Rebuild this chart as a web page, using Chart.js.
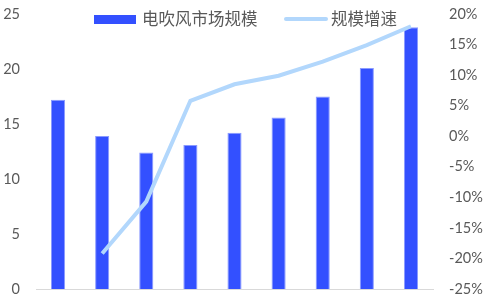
<!DOCTYPE html>
<html>
<head>
<meta charset="utf-8">
<script src="https://cdn.jsdelivr.net/npm/chart.js@4"></script>
<style>
  html, body { margin: 0; padding: 0; background: #fff; }
  #wrap { width: 496px; height: 303px; }
</style>
</head>
<body>
<div id="wrap"><canvas id="myChart"></canvas></div>
<script>
var labels = ["2012", "2013", "2014", "2015", "2016", "2017", "2018", "2019", "2020"];
var marketSize = [17.2, 13.9, 12.4, 13.1, 14.2, 15.6, 17.5, 20.1, 23.8];
var growthRate = [null, -19.2, -10.7, 5.8, 8.5, 9.9, 12.2, 14.9, 18.0];
var leftTicks = [0, 5, 10, 15, 20, 25];
var rightTicks = [-25, -20, -15, -10, -5, 0, 5, 10, 15, 20];

var barColor = "#3350ff";
var lineColor = "#b2d7fc";
var textColor = "#595959";
var tickFont = { family: "Lato, 'Noto Sans', sans-serif", size: 14.5 };

// legend sits inside the plot area, so it is drawn by hand
var legendPlugin = {
  id: "insideLegend",
  afterDraw: function (chart) {
    var ctx = chart.ctx;
    var ds = chart.data.datasets;
    ctx.save();
    ctx.font = "16.5px 'Noto Sans CJK SC'";
    ctx.textBaseline = "middle";

    ctx.fillStyle = barColor;
    ctx.fillRect(94, 15, 42, 9);
    ctx.fillStyle = textColor;
    ctx.fillText(ds[1].label, 142, 19);

    ctx.strokeStyle = lineColor;
    ctx.lineWidth = 4;
    ctx.lineCap = "round";
    ctx.beginPath();
    ctx.moveTo(286, 19);
    ctx.lineTo(326, 19);
    ctx.stroke();
    ctx.fillText(ds[0].label, 331, 19);
    ctx.restore();
  }
};

// keep the tick padding horizontal only
function fixWidth(w) {
  return function (axis) {
    axis.width = w;
    axis.paddingTop = 0;
    axis.paddingBottom = 0;
  };
}

var data = {
  labels: labels,
  datasets: [
    {
      type: "line",
      label: "规模增速",
      data: growthRate,
      yAxisID: "y1",
      borderColor: lineColor,
      backgroundColor: lineColor,
      borderWidth: 4,
      pointRadius: 0,
      tension: 0,
      order: 0
    },
    {
      type: "bar",
      label: "电吹风市场规模",
      data: marketSize,
      yAxisID: "y",
      backgroundColor: barColor,
      borderColor: "#8a9aff",
      borderWidth: 1,
      categoryPercentage: 1,
      barPercentage: 0.32,
      order: 1
    }
  ]
};

var config = {
  data: data,
  options: {
    responsive: false,
    animation: false,
    layout: { padding: { top: 14, bottom: 14, left: 0, right: 0 } },
    plugins: {
      legend: { display: false },
      tooltip: { enabled: false }
    },
    scales: {
      x: {
        ticks: { display: false },
        grid: { display: false, drawTicks: false },
        border: { display: true, color: "#d9d9d9", width: 1 },
        afterFit: function (axis) { axis.height = 0; }
      },
      y: {
        position: "left",
        min: 0,
        max: 25,
        afterBuildTicks: function (axis) {
          axis.ticks = leftTicks.map(function (v) { return { value: v }; });
        },
        afterFit: fixWidth(36),
        ticks: { color: textColor, font: tickFont, padding: 16 },
        grid: { display: false, drawTicks: false },
        border: { display: false }
      },
      y1: {
        position: "right",
        min: -25,
        max: 20,
        afterBuildTicks: function (axis) {
          axis.ticks = rightTicks.map(function (v) { return { value: v }; });
        },
        afterFit: fixWidth(63),
        ticks: {
          color: textColor,
          font: tickFont,
          padding: 16,
          callback: function (v) { return v + "%"; }
        },
        grid: { display: false, drawTicks: false },
        border: { display: false }
      }
    }
  },
  plugins: [legendPlugin]
};

var canvas = document.getElementById("myChart");
canvas.width = 496;
canvas.height = 303;
var myChart = new Chart(canvas, config);
</script>
</body>
</html>
